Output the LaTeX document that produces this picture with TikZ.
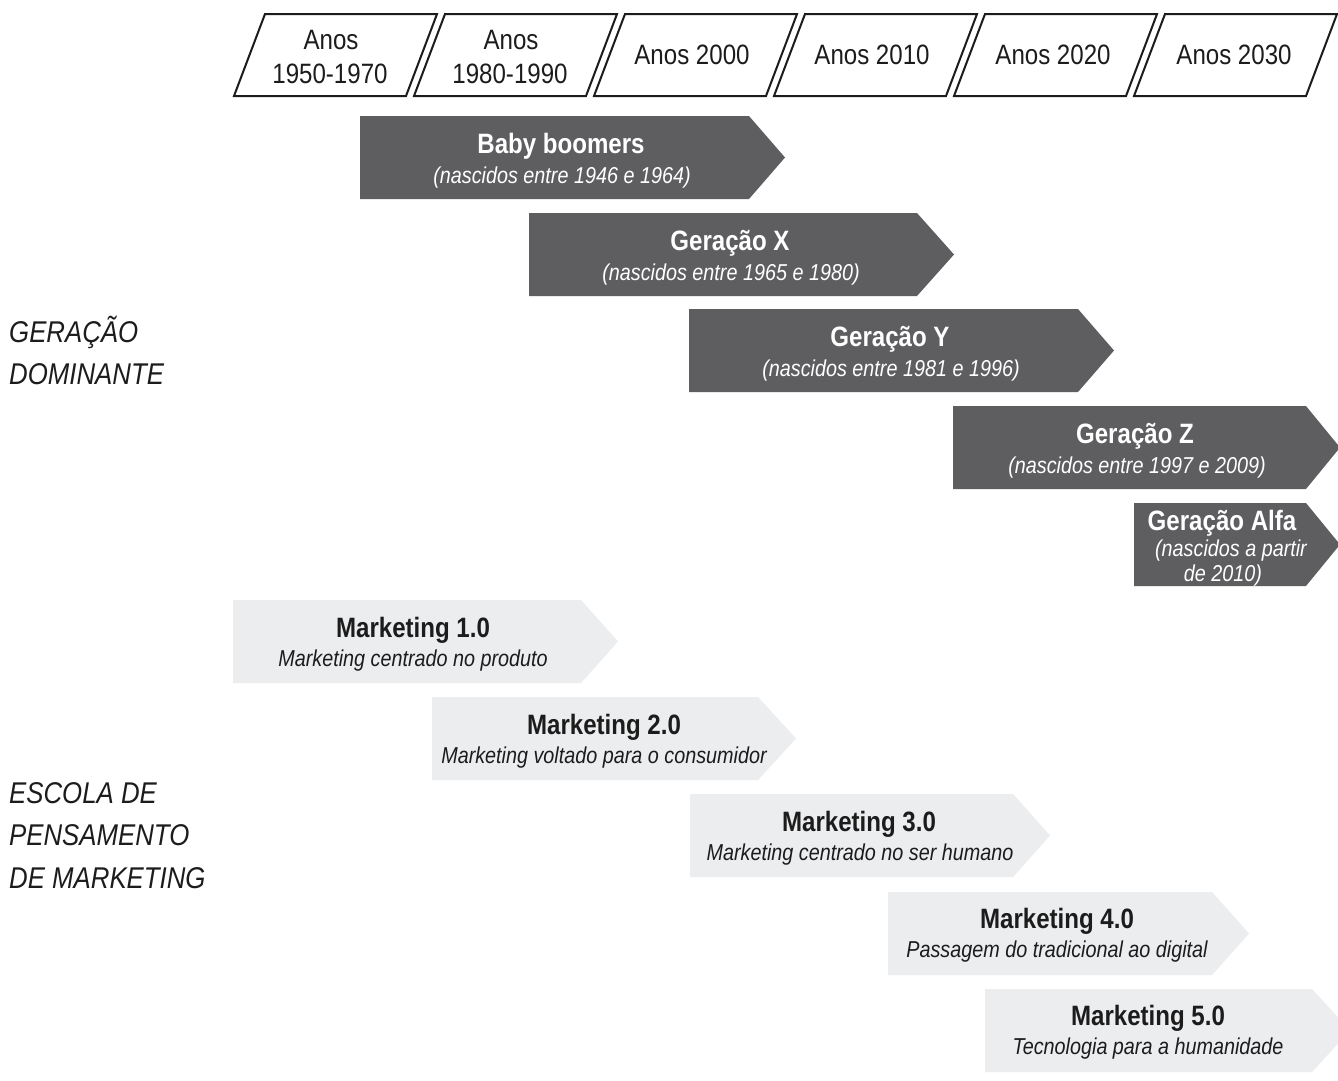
\documentclass[tikz,border=0pt]{standalone}
\usepackage{fontspec}
\setmainfont{Liberation Sans}[FakeStretch=0.86]
\definecolor{darkarr}{RGB}{94,94,97}
\definecolor{lightarr}{RGB}{236,237,239}
\definecolor{ink}{RGB}{28,28,28}
\newcommand\chevronshape[6]{\fill[#1] (#2,#3) -- (#5,#3) -- (#6,{(#3+#4)/2}) -- (#5,#4) -- (#2,#4) -- cycle;}
\newcommand\periodshape[1]{\draw[period] (#1,96) -- (#1+31,14) -- (#1+203,14) -- (#1+172,96) -- cycle;}
\begin{document}
\begin{tikzpicture}[x=1pt,y=-1pt,
  period/.style={draw=ink, line width=2pt, fill=white, line join=miter},
  yeartxt/.style={anchor=base, inner sep=0pt, font=\fontsize{28}{34}\selectfont, text=ink},
  gtitle/.style={anchor=base, inner sep=0pt, font=\bfseries\fontsize{28}{34}\selectfont, text=white},
  gsub/.style={anchor=base, inner sep=0pt, font=\itshape\fontsize{23}{25}\selectfont, text=white},
  mtitle/.style={gtitle, text=ink},
  msub/.style={gsub, text=ink},
  sidelabel/.style={anchor=base west, inner sep=0pt, font=\itshape\fontsize{30}{34}\selectfont, text=ink}]
\useasboundingbox (0,0) rectangle (1338,1080);
\fill[white] (0,0) rectangle (1338,1080);
\begin{scope}
\clip (0,0) rectangle (1338,1080);
% decades
\periodshape{234}
\periodshape{414}
\periodshape{594}
\periodshape{774}
\periodshape{954}
\periodshape{1134}
\node[yeartxt] (p1a) at (331,49.5) {Anos};
\node[yeartxt] (p1b) at (330,83) {1950-1970};
\node[yeartxt] (p2a) at (511,49.5) {Anos};
\node[yeartxt] (p2b) at (510,83) {1980-1990};
\node[yeartxt] (p3) at (692,64.5) {Anos 2000};
\node[yeartxt] (p4) at (872,64.5) {Anos 2010};
\node[yeartxt] (p5) at (1053,64.5) {Anos 2020};
\node[yeartxt] (p6) at (1234,64.5) {Anos 2030};
% generations
\chevronshape{darkarr}{360}{116}{199}{749}{785}
\chevronshape{darkarr}{529}{213}{296}{917}{954}
\chevronshape{darkarr}{689}{309}{392}{1078}{1114}
\chevronshape{darkarr}{953}{406}{489}{1306}{1340}
\chevronshape{darkarr}{1134}{503}{586}{1306}{1340}
\node[gtitle] (bbt) at (561,153) {Baby boomers};
\node[gsub] (bbs) at (562,183.5) {(nascidos entre 1946 e 1964)};
\node[gtitle] (gxt) at (730,250) {Geração X};
\node[gsub] (gxs) at (731,280.5) {(nascidos entre 1965 e 1980)};
\node[gtitle] (gyt) at (890,346) {Geração Y};
\node[gsub] (gys) at (891,376.5) {(nascidos entre 1981 e 1996)};
\node[gtitle] (gzt) at (1135,443) {Geração Z};
\node[gsub] (gzs) at (1137,473.5) {(nascidos entre 1997 e 2009)};
\node[gtitle] (gat) at (1222,530) {Geração Alfa};
\node[gsub] (gas1) at (1231,556) {(nascidos a partir};
\node[gsub] (gas2) at (1223,581) {de 2010)};
% marketing schools
\chevronshape{lightarr}{233}{600}{683}{581}{618}
\chevronshape{lightarr}{432}{697}{780}{758}{796}
\chevronshape{lightarr}{690}{794}{877}{1013}{1050}
\chevronshape{lightarr}{888}{892}{975}{1212}{1249}
\chevronshape{lightarr}{985}{989}{1072}{1312}{1350}
\node[mtitle] (m1t) at (413,637) {Marketing 1.0};
\node[msub] (m1s) at (413,666) {Marketing centrado no produto};
\node[mtitle] (m2t) at (604,734) {Marketing 2.0};
\node[msub] (m2s) at (604,763) {Marketing voltado para o consumidor};
\node[mtitle] (m3t) at (859,831) {Marketing 3.0};
\node[msub] (m3s) at (860,860) {Marketing centrado no ser humano};
\node[mtitle] (m4t) at (1057,928) {Marketing 4.0};
\node[msub] (m4s) at (1057,957) {Passagem do tradicional ao digital};
\node[mtitle] (m5t) at (1148,1025) {Marketing 5.0};
\node[msub] (m5s) at (1148,1054) {Tecnologia para a humanidade};
% side labels
\node[sidelabel] (ga1) at (9,342) {GERAÇÃO};
\node[sidelabel] (ga2) at (9,384) {DOMINANTE};
\node[sidelabel] (es1) at (9,803) {ESCOLA DE};
\node[sidelabel] (es2) at (9,845) {PENSAMENTO};
\node[sidelabel] (es3) at (9,888) {DE MARKETING};
\end{scope}
\end{tikzpicture}
\end{document}
